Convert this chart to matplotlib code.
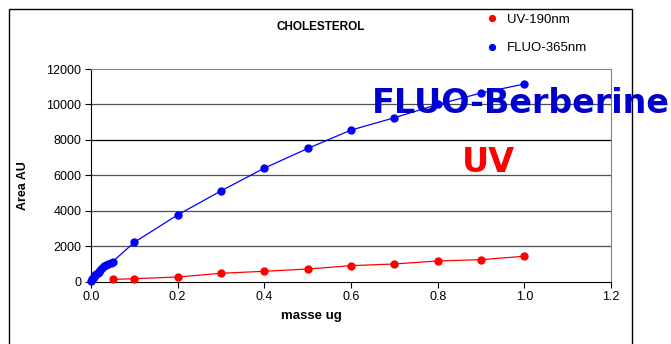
import matplotlib
matplotlib.use("Agg")
import matplotlib.pyplot as plt
from matplotlib.lines import Line2D
from matplotlib.patches import Rectangle

# ---- data ----
uv_x = [0.05, 0.1, 0.2, 0.3, 0.4, 0.5, 0.6, 0.7, 0.8, 0.9, 1.0]
uv_y = [130, 170, 265, 475, 588, 716, 904, 1000, 1170, 1243, 1435]

fluo_x = [0.0, 0.0025, 0.005, 0.0075, 0.01, 0.0125, 0.015, 0.0175, 0.02, 0.025,
          0.03, 0.035, 0.04, 0.045, 0.05, 0.1, 0.2, 0.3, 0.4, 0.5, 0.6, 0.7,
          0.8, 0.9, 1.0]
fluo_y = [60, 130, 210, 290, 350, 420, 500, 560, 640, 760,
          870, 960, 1010, 1080, 1130, 2226, 3768, 5124, 6407, 7515, 8554, 9249,
          10000, 10644, 11153]

series_names = ["UV-190nm", "FLUO-365nm"]
x_ticks = [0.0, 0.2, 0.4, 0.6, 0.8, 1.0, 1.2]
y_ticks = [0, 2000, 4000, 6000, 8000, 10000, 12000]

W, H = 671, 344
fig = plt.figure(figsize=(W / 100, H / 100), dpi=100)
plt.rcParams['font.family'] = ['Liberation Sans', 'DejaVu Sans']

def fx(px):
    return px / W

def fy(py):
    return 1 - py / H

# outer chart frame
fig.patches.append(Rectangle((fx(9), -0.05), fx(632) - fx(9), fy(9) + 0.05,
                             transform=fig.transFigure, fill=False,
                             edgecolor='black', linewidth=1.0))

ax = fig.add_axes([fx(91), fy(281.7), fx(611) - fx(91), fy(69) - fy(281.7)])
ax.set_xlim(0, 1.2)
ax.set_ylim(0, 12000)
ax.set_xticks(x_ticks)
ax.set_xticklabels([f"{v:.1f}" for v in x_ticks])
ax.set_yticks(y_ticks)
ax.set_yticklabels([str(v) for v in y_ticks])
ax.tick_params(direction='out', length=4, width=0.8, labelsize=9, pad=3)

for v in y_ticks[1:-1]:
    ax.axhline(v, color='black' if v == 8000 else '#505050', linewidth=0.9, zorder=1)

ax.spines['left'].set_color('black')
ax.spines['bottom'].set_color('black')
ax.spines['top'].set_color('#808080')
ax.spines['right'].set_color('#808080')

ax.plot(uv_x, uv_y, color='#FF0000', linewidth=0.9, marker='o', markersize=5,
        zorder=3, clip_on=False)
ax.plot(fluo_x, fluo_y, color='#0000FF', linewidth=0.9, marker='o', markersize=5,
        zorder=3, clip_on=False)

fig.text(fx(311), fy(316.5), "masse ug", fontsize=9.5, fontweight='bold',
         ha='center', va='center')
fig.text(fx(23), fy(186), "Area AU", fontsize=9, fontweight='bold',
         rotation=90, ha='center', va='center')
fig.text(fx(321), fy(27), "CHOLESTEROL", fontsize=8.5, fontweight='bold',
         ha='center', va='center')

handles = [Line2D([], [], linestyle='none', marker='o', color='#FF0000', markersize=4.2),
           Line2D([], [], linestyle='none', marker='o', color='#0000FF', markersize=4.2)]
fig.legend(handles, series_names, loc='upper left',
           bbox_to_anchor=(fx(474), fy(2)), frameon=False, fontsize=9.5,
           handletextpad=0.6, labelspacing=1.2, handlelength=1.0)

fig.text(fx(372), fy(113), "FLUO-Berberine", fontsize=24, fontweight='bold',
         color='#0000CC', ha='left', va='baseline', family='DejaVu Sans', zorder=5)
fig.text(fx(462), fy(172), "UV", fontsize=24, fontweight='bold',
         color='#FF0000', ha='left', va='baseline', family='DejaVu Sans', zorder=5)

fig.savefig("out.png", dpi=100)
